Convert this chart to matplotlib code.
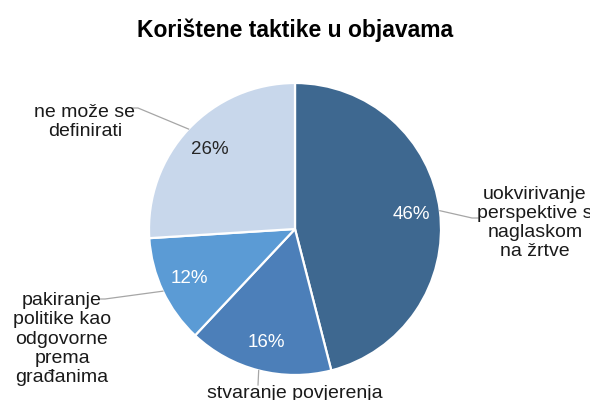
import matplotlib.pyplot as plt
import numpy as np

plt.rcParams["font.family"] = ["Liberation Sans", "DejaVu Sans"]

# --- data ---
categories = [
    "uokvirivanje\nperspektive s\nnaglaskom\nna žrtve",
    "stvaranje povjerenja",
    "pakiranje\npolitike kao\nodgovorne\nprema\ngrađanima",
    "ne može se\ndefinirati",
]
shares = [46, 16, 12, 26]
colors = ["#3e6890", "#4c7fb9", "#5b9bd5", "#c8d7eb"]
pct_colors = ["white", "white", "white", "#262626"]

# label layout in pixel coordinates (figure is 590x400, origin bottom-left)
label_xy = [(535, 177), (295, 7), (62, 61), (85, 278)]
# knee and end points of the leader lines
knee_xy = [(472, 182), (258, 15), (105, 101), (138, 292)]
elbow_xy = [(478, 182), (258, 15), (100, 101), (132, 292)]

W, H = 590, 400
CX, CY, R = 295, 400 - 229, 146

fig = plt.figure(figsize=(W / 100, H / 100), dpi=100)
ax = fig.add_axes([0, 0, 1, 1])

wedges, texts, autotexts = ax.pie(
    shares,
    colors=colors,
    startangle=90,
    counterclock=False,
    center=(CX, CY),
    radius=R,
    autopct="%d%%",
    pctdistance=0.8,
    wedgeprops=dict(edgecolor="white", linewidth=1.6),
    textprops=dict(fontsize=13.5),
    frame=True,
)
ax.set_xlim(0, W)
ax.set_ylim(0, H)
ax.set_aspect("equal")
ax.axis("off")
for t, c in zip(autotexts, pct_colors):
    t.set_color(c)

for w, lab, (tx, ty), (kx, ky), (ex, ey) in zip(
    wedges, categories, label_xy, knee_xy, elbow_xy
):
    ang = np.deg2rad(0.5 * (w.theta1 + w.theta2))
    px, py = CX + R * np.cos(ang), CY + R * np.sin(ang)
    ax.plot([px, kx, ex], [py, ky, ey], color="#a6a6a6", lw=0.9, zorder=3)
    ax.text(tx, ty, lab, fontsize=14, ha="center", va="center", color="#1a1a1a",
            linespacing=1.16, zorder=4)

ax.text(W / 2, H - 30, "Korištene taktike u objavama", fontsize=16.5,
        fontweight="bold", ha="center", va="center", color="black")

fig.savefig("out.png", dpi=100, facecolor="white")
